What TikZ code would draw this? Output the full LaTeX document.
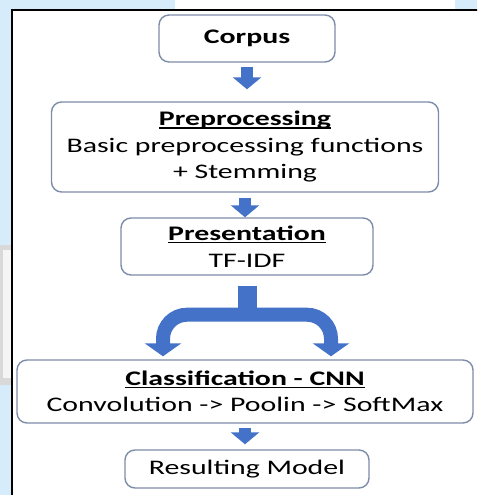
\documentclass[tikz,border=0pt]{standalone}
\usepackage{fontspec}
\setmainfont{Carlito}[FakeStretch=1.44]
\usepackage{xcolor}
\usepackage{tikz}
\usetikzlibrary{arrows.meta, positioning}
\definecolor{boxline}{RGB}{125,140,168}
\definecolor{flow}{RGB}{68,114,200}
\definecolor{paleblue}{RGB}{214,236,250}
\newsavebox{\headbox}
\newcommand{\headline}[1]{\sbox{\headbox}{\bfseries #1}%
  \rlap{\rule[-2.6pt]{\wd\headbox}{1.3pt}}\usebox{\headbox}}

\begin{document}
\begin{tikzpicture}[x=1pt, y=-1pt,
    every node/.style={font=\fontsize{20.7}{26.5}\selectfont},
    box/.style={draw=boxline, line width=1.4pt, rounded corners=10pt, fill=white,
      inner sep=0pt, align=center},
    flowarrow/.style={draw=flow, line width=12pt, -{Triangle[width=28pt, length=12pt]}}]
  \useasboundingbox (0,0) rectangle (477,495);
  \clip (0,0) rectangle (477,495);

  % page around the figure
  \fill[paleblue] (0,0) rectangle (175,9);
  \fill[paleblue] (455,0) rectangle (477,9);
  \fill[paleblue] (0,0) rectangle (11,495);
  \fill[gray!30] (0,245) rectangle (11,385);
  \fill[gray!8] (3,250) rectangle (11,378);
  \draw[line width=2pt] (12,505) -- (12,10) -- (490,10);

  \node[box, minimum width=176pt, minimum height=47pt]
    (corpus) at (247,38.5) {\bfseries Corpus};
  \node[box, minimum width=387pt, minimum height=90pt]
    (prep) at (245,147) {\headline{Preprocessing}\\Basic preprocessing functions\\+ Stemming};
  \node[box, minimum width=252pt, minimum height=57pt]
    (pres) at (247,246.5) {\headline{Presentation}\\TF-IDF};
  \node[box, minimum width=456pt, minimum height=63pt]
    (class) at (245,391.5) {\headline{Classification - CNN}\\Convolution -> Poolin -> SoftMax};
  \node[box, minimum width=244pt, minimum height=38pt]
    (result) at (247,469) {Resulting Model};

  \draw[flowarrow, shorten <=4pt, shorten >=12pt] (corpus.south) -- (corpus.south |- prep.north);
  \draw[flowarrow, shorten <=5pt] (prep.south) -- (prep.south |- pres.north);
  \draw[flowarrow, shorten <=4pt, shorten >=5pt] (class.south) -- (class.south |- result.north);

  % split into two branches
  \coordinate[below=39pt of pres.south] (fork);
  \coordinate[left=84pt of fork] (forkl);
  \coordinate[right=84pt of fork] (forkr);
  \draw[flow, line width=19pt, shorten <=10pt] (pres.south) -- (fork);
  \draw[flow, line width=14pt, rounded corners=24pt, shorten <=3pt, shorten >=3pt,
    {Triangle[width=36pt, length=13pt]}-{Triangle[width=36pt, length=13pt]}]
    (forkl |- class.north) |- (fork) -| (forkr |- class.north);
\end{tikzpicture}
\end{document}
